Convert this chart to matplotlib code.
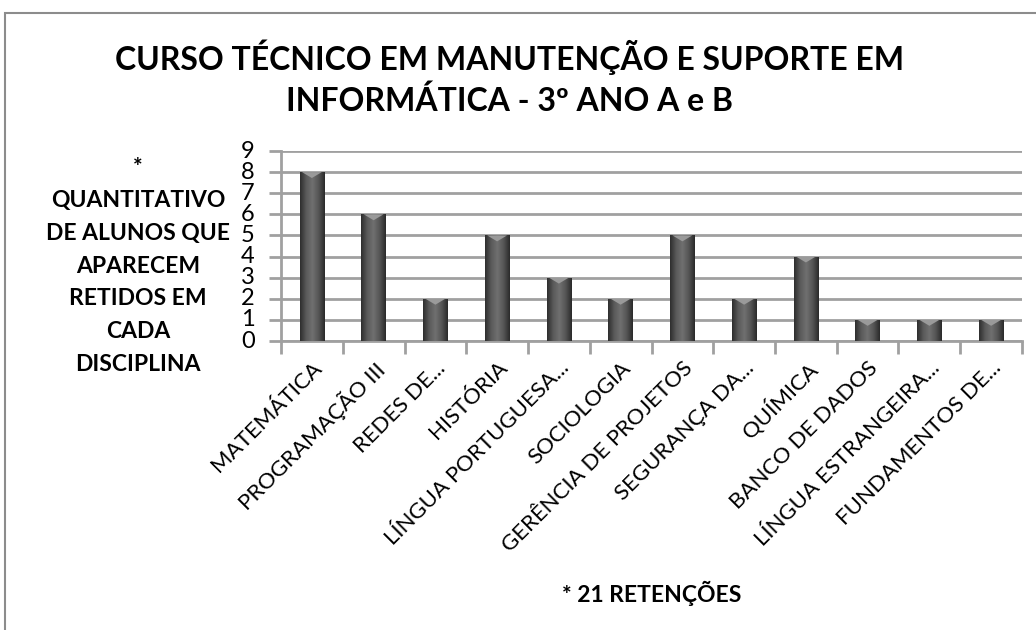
import numpy as np
import matplotlib
matplotlib.use("Agg")
import matplotlib.pyplot as plt
from matplotlib.colors import LinearSegmentedColormap
from matplotlib.patches import Rectangle

# Data
disciplinas = ["MATEMÁTICA", "PROGRAMAÇÃO III", "REDES DE...", "HISTÓRIA",
               "LÍNGUA PORTUGUESA...", "SOCIOLOGIA", "GERÊNCIA DE PROJETOS",
               "SEGURANÇA DA...", "QUÍMICA", "BANCO DE DADOS",
               "LÍNGUA ESTRANGEIRA...", "FUNDAMENTOS DE..."]
retidos = [8, 6, 2, 5, 3, 2, 5, 2, 4, 1, 1, 1]
y_ticks = list(range(0, 10))

titulo = "CURSO TÉCNICO EM MANUTENÇÃO E SUPORTE EM\nINFORMÁTICA - 3º ANO A e B"
rotulo_y = "*\nQUANTITATIVO\nDE ALUNOS QUE\nAPARECEM\nRETIDOS EM\nCADA\nDISCIPLINA"
nota = "* 21 RETENÇÕES"

plt.rcParams['font.family'] = ['Lato', 'DejaVu Sans']

fig = plt.figure(figsize=(10.36, 6.3), dpi=100)
ax = fig.add_axes([281 / 1036, 1 - 341 / 630, 741 / 1036, 190 / 630])

# chart border
fig.patches.append(Rectangle((5 / 1036, -0.1), 1.2, 1 - 13 / 630 + 0.1,
                             transform=fig.transFigure, fill=False,
                             edgecolor='#8c8c8c', linewidth=1.5))

x = np.arange(len(disciplinas))
bars = ax.bar(x, retidos, width=0.4, color='#555555', zorder=3)

# cylinder-like shading on each bar
cmap = LinearSegmentedColormap.from_list("cil", ["#2e2e2e", "#5a5a5a", "#707070", "#555555", "#2a2a2a"])
grad = np.linspace(0, 1, 100).reshape(1, -1)
for b in bars:
    x0, w, h = b.get_x(), b.get_width(), b.get_height()
    im = ax.imshow(grad, cmap=cmap, aspect='auto', zorder=4,
                   extent=(x0, x0 + w, 0, h))
    im.set_clip_path(b)
    # lighter cap at the top of the cylinder
    ax.fill([x0 + 0.1 * w, x0 + 0.9 * w, x0 + 0.5 * w], [h, h, h - 0.28],
            color='#9a9a9a', zorder=5, linewidth=0)

ax.set_xlim(-0.5, len(disciplinas) - 0.5)
ax.set_ylim(0, 9)
ax.set_yticks(y_ticks)
ax.yaxis.grid(True, color='#a0a0a0', linewidth=2)
ax.set_axisbelow(True)

for s in ['top', 'right']:
    ax.spines[s].set_visible(False)
ax.spines['left'].set_color('#a0a0a0')
ax.spines['bottom'].set_color('#a0a0a0')
ax.spines['left'].set_linewidth(2)
ax.spines['bottom'].set_linewidth(2)

ax.set_xticks(x)
ax.set_xticks(np.arange(-0.5, len(disciplinas)), minor=True)
ax.tick_params(axis='x', which='major', length=0, pad=12)
ax.tick_params(axis='x', which='minor', length=9, width=2, color='#a0a0a0')
ax.tick_params(axis='y', length=9, width=2, color='#a0a0a0', labelsize=17, pad=10)
ax.set_xticklabels(disciplinas, rotation=45, ha='right', va='top',
                   rotation_mode='anchor', fontsize=16)
for lab in ax.get_yticklabels():
    lab.set_verticalalignment('center')

fig.text(510 / 1036, 1 - 78 / 630, titulo, ha='center', va='center',
         fontsize=23, fontweight='bold', linespacing=1.4)
fig.text(138 / 1036, 1 - 266 / 630, rotulo_y, ha='center', va='center',
         fontsize=16.5, fontweight='bold', linespacing=1.7)
fig.text(652 / 1036, 1 - 593 / 630, nota, ha='center', va='center',
         fontsize=16.5, fontweight='bold')

fig.savefig("out.png", dpi=100)
